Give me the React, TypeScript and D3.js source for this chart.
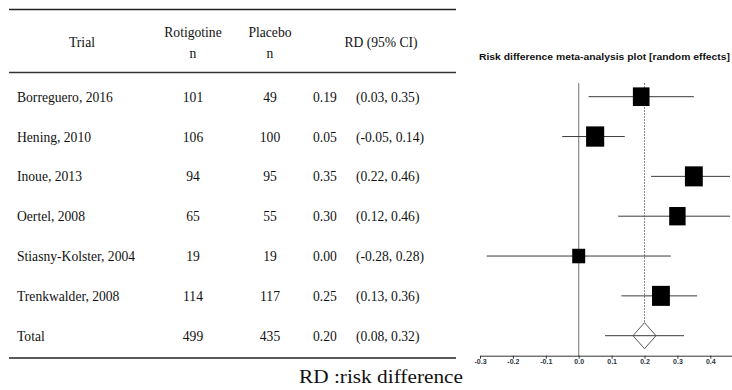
import { useEffect, useRef } from 'react';
import * as d3 from 'd3';

// table data
const trials = ['Borreguero, 2016', 'Hening, 2010', 'Inoue, 2013', 'Oertel, 2008', 'Stiasny-Kolster, 2004', 'Trenkwalder, 2008'];
const rotigotineN = [101, 106, 94, 65, 19, 114];
const placeboN = [49, 100, 95, 55, 19, 117];
const rd = [0.19, 0.05, 0.35, 0.30, 0.00, 0.25];
const ciLow = [0.03, -0.05, 0.22, 0.12, -0.28, 0.13];
const ciHigh = [0.35, 0.14, 0.46, 0.46, 0.28, 0.36];
// approximate random-effects weights (%), read from square sizes
const weights = [16.5, 19.5, 19, 16, 10, 19];

const total = { label: 'Total', rot: 499, plac: 435, rd: 0.20, lo: 0.08, hi: 0.32 };
// summary diamond half-width in RD units (as drawn)
const diamondHalf = 0.035;

const tickValues = [-0.3, -0.2, -0.1, 0.0, 0.1, 0.2, 0.3, 0.4];

// plain hyphen instead of d3's unicode minus
const fmt = (v: number) => v.toFixed(2);
const fmtTick = (v: number) => v.toFixed(1);

export default function App() {
  const ref = useRef<SVGSVGElement>(null);

  useEffect(() => {
    if (!ref.current) return;
    const svg = d3.select(ref.current);
    svg.selectAll('*').remove();

    const rowKeys = [...trials, total.label];
    const y = d3.scalePoint<string>().domain(rowKeys).range([96.7, 335.7]);
    const x = d3.scaleLinear().domain([-0.3, 0.5]).range([480, 743.2]);
    const size = d3.scaleSqrt().domain([0, 100]).range([0, 41]);

    const serif = '"Liberation Serif", "Times New Roman", serif';
    const sans = '"Liberation Sans", Arial, sans-serif';

    // ---- table ----
    const tbl = svg.append('g').attr('font-family', serif).attr('font-size', 13.6).attr('fill', '#111');

    tbl.append('line').attr('x1', 9).attr('x2', 456).attr('y1', 9.5).attr('y2', 9.5)
      .attr('stroke', '#222').attr('stroke-width', 1.5);
    tbl.append('line').attr('x1', 9).attr('x2', 456).attr('y1', 72.5).attr('y2', 72.5)
      .attr('stroke', '#333').attr('stroke-width', 1.5);
    tbl.append('line').attr('x1', 9).attr('x2', 456).attr('y1', 358).attr('y2', 358)
      .attr('stroke', '#222').attr('stroke-width', 1.5);

    tbl.append('text').attr('x', 82).attr('y', 47).attr('text-anchor', 'middle').text('Trial');
    tbl.append('text').attr('x', 193).attr('y', 37).attr('text-anchor', 'middle').text('Rotigotine');
    tbl.append('text').attr('x', 193).attr('y', 58).attr('text-anchor', 'middle').text('n');
    tbl.append('text').attr('x', 270).attr('y', 37).attr('text-anchor', 'middle').text('Placebo');
    tbl.append('text').attr('x', 270).attr('y', 58).attr('text-anchor', 'middle').text('n');
    tbl.append('text').attr('x', 381).attr('y', 47).attr('text-anchor', 'middle').text('RD (95% CI)');

    const rows = [
      ...trials.map((t, i) => ({ label: t, rot: rotigotineN[i], plac: placeboN[i], rd: rd[i], lo: ciLow[i], hi: ciHigh[i] })),
      total,
    ];

    const rg = tbl.selectAll('g.row').data(rows).enter().append('g')
      .attr('transform', d => `translate(0,${y(d.label)! + 5})`);
    rg.append('text').attr('x', 17).text(d => d.label);
    rg.append('text').attr('x', 193).attr('text-anchor', 'middle').text(d => d.rot);
    rg.append('text').attr('x', 270).attr('text-anchor', 'middle').text(d => d.plac);
    rg.append('text').attr('x', 313).text(d => fmt(d.rd));
    rg.append('text').attr('x', 356).text(d => `(${fmt(d.lo)}, ${fmt(d.hi)})`);

    svg.append('text').attr('x', 299).attr('y', 383).attr('font-family', serif).attr('font-size', 18)
      .attr('fill', '#111').attr('textLength', 164).attr('lengthAdjust', 'spacingAndGlyphs')
      .text('RD :risk difference');

    // ---- forest plot ----
    const fp = svg.append('g');

    fp.append('text').attr('x', 479).attr('y', 60).attr('font-family', sans).attr('font-size', 9)
      .attr('font-weight', 'bold').attr('fill', '#111')
      .attr('textLength', 251).attr('lengthAdjust', 'spacingAndGlyphs')
      .text('Risk difference meta-analysis plot [random effects]');

    // no-effect line
    fp.append('line').attr('x1', x(0)).attr('x2', x(0)).attr('y1', 83).attr('y2', 356)
      .attr('stroke', '#8a8a8a').attr('stroke-width', 1.2);

    // pooled estimate dashed line
    const diamondTop = y(total.label)! - 13;
    fp.append('line').attr('x1', x(total.rd)).attr('x2', x(total.rd)).attr('y1', 83).attr('y2', diamondTop)
      .attr('stroke', '#888').attr('stroke-width', 1).attr('stroke-dasharray', '2,1');

    const studies = rows.slice(0, trials.length).map((d, i) => ({ ...d, w: weights[i] }));

    fp.selectAll('line.ci').data(studies).enter().append('line')
      .attr('x1', d => x(d.lo)).attr('x2', d => x(d.hi))
      .attr('y1', d => y(d.label)!).attr('y2', d => y(d.label)!)
      .attr('stroke', '#3a3a3a').attr('stroke-width', 1);

    fp.selectAll('rect.box').data(studies).enter().append('rect')
      .attr('x', d => x(d.rd) - size(d.w) / 2)
      .attr('y', d => y(d.label)! - size(d.w) * 0.56)
      .attr('width', d => size(d.w))
      .attr('height', d => size(d.w) * 1.12)
      .attr('fill', '#000');

    // summary
    const ty = y(total.label)!;
    fp.append('line').attr('x1', x(total.lo)).attr('x2', x(total.hi)).attr('y1', ty).attr('y2', ty)
      .attr('stroke', '#3a3a3a').attr('stroke-width', 1);
    const dpath = d3.path();
    dpath.moveTo(x(total.rd), ty - 13);
    dpath.lineTo(x(total.rd + diamondHalf), ty);
    dpath.lineTo(x(total.rd), ty + 13);
    dpath.lineTo(x(total.rd - diamondHalf), ty);
    dpath.closePath();
    fp.append('path').attr('d', dpath.toString()).attr('fill', 'none').attr('stroke', '#555').attr('stroke-width', 1);

    // axis
    const axis = d3.axisBottom(x).tickValues(tickValues).tickSize(3).tickSizeOuter(0)
      .tickFormat(d => fmtTick(+d));
    const ax = fp.append('g').attr('transform', 'translate(0,355.7)').call(axis);
    ax.select('.domain').attr('stroke', '#333');
    ax.selectAll('.tick line').attr('stroke', '#333');
    ax.selectAll('.tick text').attr('font-family', sans).attr('font-size', 7).attr('fill', '#2b3440')
      .attr('font-weight', 'bold').attr('dy', '0.5em').attr('y', 5);
  }, []);

  return (
    <svg ref={ref} width={732} height={390}
      style={{ position: 'absolute', left: 0, top: 0, background: '#fff' }} />
  );
}
